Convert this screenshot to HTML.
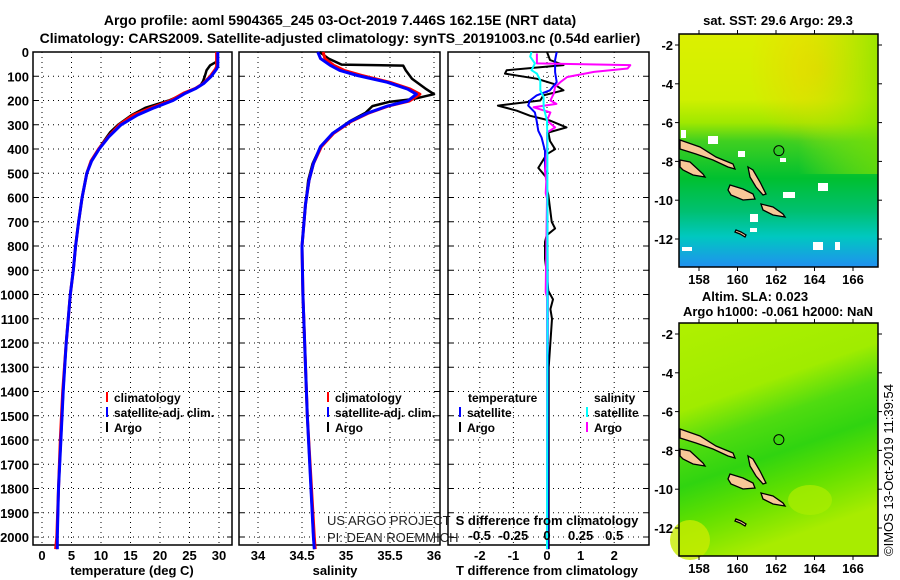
<!DOCTYPE html>
<html><head><meta charset="utf-8"><style>
html,body{margin:0;padding:0;background:#fff;}
svg{display:block;font-family:"Liberation Sans",Arial,sans-serif;}
.t{font-weight:bold;font-size:14px;}
.k{font-weight:bold;font-size:13px;}
.thin{font-size:13px;fill:#222;}
</style></head><body>
<svg id="c" width="900" height="580" viewBox="0 0 900 580" xmlns="http://www.w3.org/2000/svg">
<defs>
<linearGradient id="sst" x1="0" y1="0" x2="0" y2="1">
<stop offset="0" stop-color="#dcf000"/><stop offset="0.28" stop-color="#d0f000"/><stop offset="0.38" stop-color="#a0e800"/><stop offset="0.46" stop-color="#40d020"/><stop offset="0.62" stop-color="#00c030"/><stop offset="0.76" stop-color="#00c070"/><stop offset="0.87" stop-color="#00c8c0"/><stop offset="1" stop-color="#2090f0"/>
</linearGradient>
<radialGradient id="warm" cx="0.7" cy="0.15" r="0.35"><stop offset="0" stop-color="#f8c000" stop-opacity="0.45"/><stop offset="1" stop-color="#f8c000" stop-opacity="0"/></radialGradient>
<linearGradient id="sstr" x1="0" y1="0" x2="1" y2="0"><stop offset="0.6" stop-color="#c0f000" stop-opacity="0"/><stop offset="1" stop-color="#80e000" stop-opacity="0.7"/></linearGradient>
<linearGradient id="sla" x1="0" y1="0" x2="0.3" y2="1">
<stop offset="0" stop-color="#b0f000"/><stop offset="0.35" stop-color="#a0ec00"/><stop offset="0.5" stop-color="#50dc10"/><stop offset="0.65" stop-color="#30d410"/><stop offset="0.8" stop-color="#60e000"/><stop offset="1" stop-color="#a8ec00"/>
</linearGradient>
</defs>
<g id="titles">
<text class="t" x="340" y="25" text-anchor="middle">Argo profile: aoml 5904365_245 03-Oct-2019 7.446S 162.15E (NRT data)</text>
<text class="t" x="340" y="43" text-anchor="middle">Climatology: CARS2009. Satellite-adjusted climatology: synTS_20191003.nc (0.54d earlier)</text>
</g>
<g id="p1"></g>
<g id="p2"></g>
<g id="p3"></g>
<g id="m1"></g>
<g id="m2"></g>
<text x="893" y="470" transform="rotate(-90 893 470)" text-anchor="middle" style="font-size:13px">©IMOS 13-Oct-2019 11:39:54</text>
</svg>
<script>
// ---- data ----
const depthTicks = [0,100,200,300,400,500,600,700,800,900,1000,1100,1200,1300,1400,1500,1600,1700,1800,1900,2000];
const tempTicks = [0,5,10,15,20,25,30];
const salTicks = [34,34.5,35,35.5,36];
const salTickLabels = ["34","34.5","35","35.5","36"];
const tdTicks = [-2,-1,0,1,2];
const sdTicks = [-0.5,-0.25,0,0.25,0.5];
const sdTickLabels = ["-0.5","-0.25","0","0.25","0.5"];

const profDepth = [0,60,70,100,130,150,170,200,230,260,300,350,400,450,500,600,700,800,900,1000,1200,1400,1600,1800,2000,2050];
const tempClim  = [29.6,29.6,29.4,28.5,27.3,26,24,21.8,18.5,15.5,13.1,11.2,9.6,8.3,7.6,6.8,6.2,5.7,5.3,4.8,4.1,3.5,3.1,2.8,2.5,2.3];
const tempSat   = [29.8,29.8,29.6,28.7,27.4,26.1,24.3,22.2,19,16.2,13.4,11.3,9.7,8.4,7.6,6.8,6.2,5.7,5.3,4.8,4.1,3.6,3.2,2.8,2.6,2.6];
const argoDepth = [0,40,55,75,100,120,140,160,180,200,230,260,300,330,350,400,450,500,600,700,800,900,1000,1200,1400,1600,1800,2000,2050];
const tempArgo  = [29.7,29.6,28.5,27.9,27.6,27.3,26.8,25.2,23.4,21.5,17.5,15.2,12.9,11.6,11,9.6,8.3,7.6,6.8,6.2,5.7,5.3,4.8,4.1,3.6,3.2,2.8,2.6,2.6];

const salDepth  = [0,27,55,76,97,125,153,174,202,223,251,286,335,390,460,530,628,800,1000,1500,2000,2050];
const salSat    = [34.68,34.71,34.82,34.93,35.13,35.47,35.7,35.8,35.7,35.47,35.25,35.05,34.85,34.71,34.63,34.58,34.54,34.5,34.51,34.56,34.63,34.64];
const salClim   = [34.74,34.76,34.86,34.98,35.18,35.5,35.73,35.84,35.72,35.48,35.26,35.06,34.86,34.72,34.63,34.58,34.54,34.5,34.51,34.56,34.64,34.65];
const salArgoDepth = [0,27,52,56,76,110,150,174,195,205,223,251,286,335,390,460,530,628,800,1000,1500,2000,2050];
const salArgo   = [34.7,34.8,34.95,35.65,35.68,35.75,35.9,36.0,35.75,35.5,35.3,35.22,35.04,34.85,34.71,34.62,34.57,34.54,34.5,34.51,34.56,34.63,34.64];

const tdDepth = [0,33,54,75,89,110,131,158,179,200,221,242,263,283,311,332,367,401,422,478,519,561,589,700,728,756,783,853,908,985,1020,1060,1100,1300,1600,2000,2050];
const tdClim  = [0,0.09,0.49,-1.2,-1.25,-0.31,0.19,0.49,-0.11,-0.2,-1.46,-0.9,-0.5,0.09,0.58,0.04,0.09,0.24,-0.01,-0.26,-0.01,-0.01,0.04,0.14,0.24,-0.01,-0.06,-0.06,-0.01,0.04,0.18,0.1,0.15,0.05,0.05,0.05,0.05];
const tsDepth = [0,33,83,124,158,179,200,221,249,283,325,353,408,478,533,603,985,2050];
const tdSat   = [0.29,0.24,0.24,0.29,0.09,-0.31,-0.51,-0.56,-0.36,-0.31,-0.26,-0.16,-0.06,-0.06,-0.01,0.01,0.02,0.02];
const sdDepth = [6,47,54,68,82,103,124,144,172,200,214,228,249,283,311,332,408,492,533,582,603,990,1010,2050];
const sdClim  = [-0.075,-0.075,0.62,0.6,0.35,0.15,0.1,0.06,0.05,0.025,0.07,-0.1,0.025,0,0.06,0,0,-0.015,-0.005,-0.01,0,-0.01,0,0];
const ssDepth = [0,19,47,75,89,117,158,186,228,283,367,985,2050];
const sdSat   = [-0.115,-0.125,-0.09,-0.115,-0.075,-0.05,-0.05,-0.025,-0.025,0,0.003,0.003,0];

const lonTicks = [158,160,162,164,166];
const latTicks = [-2,-4,-6,-8,-10,-12];
const floatLon = 162.15, floatLat = -7.446;

// ---- helpers ----
const NS="http://www.w3.org/2000/svg";
function mk(parent,tag,attrs,txt){const e=document.createElementNS(NS,tag);for(const k in attrs)e.setAttribute(k,attrs[k]);if(txt!==undefined)e.textContent=txt;parent.appendChild(e);return e;}
const TOP=52, BOT=545;
const yD = d => TOP + d*0.2425;
function panel(g, x0, x1, xf, ticks, labels, gridTicks){
  for(const t of gridTicks){const gx=xf(t);
    const l=mk(g,'line',{x1:gx,x2:gx,y1:TOP,y2:BOT,stroke:'#000','stroke-dasharray':'1 4','stroke-width':1});
    }
  for(const d of depthTicks){const gy=yD(d);
    const l=mk(g,'line',{x1:x0,x2:x1,y1:gy,y2:gy,stroke:'#000','stroke-dasharray':'1 4','stroke-width':1});
    
    mk(g,'line',{x1:x0,x2:x0+5,y1:gy,y2:gy,stroke:'#000'});mk(g,'line',{x1:x1-5,x2:x1,y1:gy,y2:gy,stroke:'#000'});}
  ticks.forEach((t,i)=>{const tx=xf(t);
    const e=mk(g,'text',{class:'k',x:tx,y:BOT+15,'text-anchor':'middle'},labels[i]);
    });
  const r=mk(g,'rect',{x:x0,y:TOP,width:x1-x0,height:BOT-TOP,fill:'none',stroke:'#000','stroke-width':1.5});
  
}
function line(g,xs,ds,xf,col,w,name){
  const pts=xs.map((v,i)=>xf(v).toFixed(1)+','+yD(ds[i]).toFixed(1)).join(' ');
  const p=mk(g,'polyline',{points:pts,fill:'none',stroke:col,'stroke-width':w,'stroke-linejoin':'round'});
  
}
function legend(g,x,y,col,txt){mk(g,'line',{x1:x,x2:x,y1:y-10,y2:y,stroke:col,'stroke-width':2});
  const e=mk(g,'text',{class:'k',x:x+7,y:y,style:'font-size:12px'},txt);
  }

// ---- panel 1 ----
const p1=document.getElementById('p1');
const xT=t=>42+t*5.9;
panel(p1,33,232,xT,tempTicks,tempTicks.map(String),tempTicks);
depthTicks.forEach(d=>{const e=mk(p1,'text',{class:'k',x:29,y:yD(d)+5,'text-anchor':'end'},String(d));
  });
line(p1,tempArgo,argoDepth,xT,'#000',2.5,'argo-temperature-line');
line(p1,tempClim,profDepth,xT,'#f00',3,'climatology-temperature-line');
line(p1,tempSat,profDepth,xT,'#0000ff',3,'satellite-temperature-line');
legend(p1,107,402,'#f00','climatology');legend(p1,107,417,'#00f','satellite-adj. clim.');legend(p1,107,432,'#000','Argo');
mk(p1,'text',{class:'k',x:132,y:575,'text-anchor':'middle'},'temperature (deg C)');

// ---- panel 2 ----
const p2=document.getElementById('p2');
const xS=s=>258+(s-34)*88;
panel(p2,239,440,xS,salTicks,salTickLabels,salTicks);
line(p2,salArgo,salArgoDepth,xS,'#000',2.5,'argo-salinity-line');
line(p2,salClim,salDepth,xS,'#f00',3,'climatology-salinity-line');
line(p2,salSat,salDepth,xS,'#0000ff',3,'satellite-salinity-line');
legend(p2,328,402,'#f00','climatology');legend(p2,328,417,'#00f','satellite-adj. clim.');legend(p2,328,432,'#000','Argo');
mk(p2,'text',{class:'k',x:335,y:575,'text-anchor':'middle'},'salinity');
mk(p2,'text',{class:'thin',x:327,y:525},'US ARGO PROJECT');
mk(p2,'text',{class:'thin',x:327,y:542},'PI: DEAN ROEMMICH');

// ---- panel 3 ----
const p3=document.getElementById('p3');
const xTD=t=>547+t*33.6, xSD=s=>547+s*134.4;
panel(p3,448,649,xTD,tdTicks,tdTicks.map(String),tdTicks);
line(p3,tdClim,tdDepth,xTD,'#000',2,'argo-minus-climatology-temperature');
line(p3,tdSat,tsDepth,xTD,'#0000ff',2,'argo-minus-satellite-temperature');
line(p3,sdClim,sdDepth,xSD,'#ff00ff',2,'argo-minus-climatology-salinity');
line(p3,sdSat,ssDepth,xSD,'#00ffff',2,'argo-minus-satellite-salinity');
mk(p3,'text',{class:'k',x:468,y:402,style:'font-size:12px'},'temperature');
mk(p3,'text',{class:'k',x:594,y:402,style:'font-size:12px'},'salinity');
legend(p3,460,417,'#00f','satellite');legend(p3,460,432,'#000','Argo');
legend(p3,587,417,'#0ff','satellite');legend(p3,587,432,'#f0f','Argo');
mk(p3,'text',{class:'k',x:547,y:525,'text-anchor':'middle'},'S difference from climatology');
sdTicks.forEach((s,i)=>{const e=mk(p3,'text',{class:'k',x:xSD(s),y:540,'text-anchor':'middle'},sdTickLabels[i]);
  });
mk(p3,'text',{class:'k',x:547,y:575,'text-anchor':'middle'},'T difference from climatology');

// ---- maps ----
const islands=[
 [[1,106],[21,113],[37,123],[54,130],[56,135],[49,133],[34,126],[17,120],[1,115]],
 [[1,126],[11,128],[24,140],[26,143],[14,141],[4,136],[1,133]],
 [[51,151],[64,155],[74,160],[76,165],[64,166],[52,161],[49,156]],
 [[69,133],[74,136],[81,148],[87,160],[84,161],[77,153],[71,143]],
 [[82,170],[94,173],[104,180],[106,183],[94,181],[84,176]],
 [[57,196],[62,198],[67,201],[66,203],[61,200],[56,198]]
];
function map(id,ox,oy,fill,extra){
  const g=document.getElementById(id);
  const W=199,H=233;
  const xL=lon=>ox+20+(lon-158)*19.25, yL=lat=>oy+11+(-2-lat)*19.4;
  mk(g,'rect',{x:ox,y:oy,width:W,height:H,fill:fill});
  extra(g);
  for(const isl of islands){const p=mk(g,'polygon',{points:isl.map(q=>(ox+q[0])+','+(oy+q[1])).join(' '),fill:'#f8c898',stroke:'#000','stroke-width':1.3});
    }
  const c=mk(g,'circle',{cx:xL(floatLon),cy:yL(floatLat),r:5,fill:'none',stroke:'#000','stroke-width':1});
  
  mk(g,'rect',{x:ox,y:oy,width:W,height:H,fill:'none',stroke:'#000','stroke-width':1.5});
  lonTicks.forEach(l=>{const x=xL(l);mk(g,'line',{x1:x,x2:x,y1:oy,y2:oy-4,stroke:'#000'});mk(g,'line',{x1:x,x2:x,y1:oy+H,y2:oy+H+4,stroke:'#000'});
    const e=mk(g,'text',{class:'k',x:x,y:oy+H+17,'text-anchor':'middle'},String(l));
    });
  latTicks.forEach(l=>{const y=yL(l);mk(g,'line',{x1:ox,x2:ox-4,y1:y,y2:y,stroke:'#000'});mk(g,'line',{x1:ox+W,x2:ox+W+4,y1:y,y2:y,stroke:'#000'});
    const e=mk(g,'text',{class:'k',x:ox-6,y:y+5,'text-anchor':'end'},String(l));
    });
}
map('m1',679,34,'url(#sst)',g=>{
  mk(g,'rect',{x:679,y:34,width:199,height:233,fill:'url(#warm)'});
  mk(g,'rect',{x:679,y:34,width:199,height:140,fill:'url(#sstr)'});
  [[681,130,5,8],[708,136,10,8],[738,151,7,6],[750,214,8,8],[682,247,10,4],[750,228,7,4],[818,183,10,8],[780,158,6,4],[813,242,10,8],[835,242,5,8],[783,192,12,6]].forEach(r=>mk(g,'rect',{x:r[0],y:r[1],width:r[2],height:r[3],fill:'#fff'}));
});
mk(document.getElementById('m1'),'text',{class:'k',x:778,y:25,'text-anchor':'middle'},'sat. SST: 29.6 Argo: 29.3');
map('m2',679,323,'url(#sla)',g=>{
  mk(g,'ellipse',{cx:810,cy:500,rx:22,ry:15,fill:'#a8ec00',opacity:0.8});
  mk(g,'ellipse',{cx:690,cy:540,rx:20,ry:20,fill:'#c8ec00',opacity:0.8});
});
mk(document.getElementById('m2'),'text',{class:'k',x:755,y:301,'text-anchor':'middle'},'Altim. SLA: 0.023');
mk(document.getElementById('m2'),'text',{class:'k',x:778,y:316,'text-anchor':'middle'},'Argo h1000: -0.061 h2000: NaN');
</script>
</body></html>
